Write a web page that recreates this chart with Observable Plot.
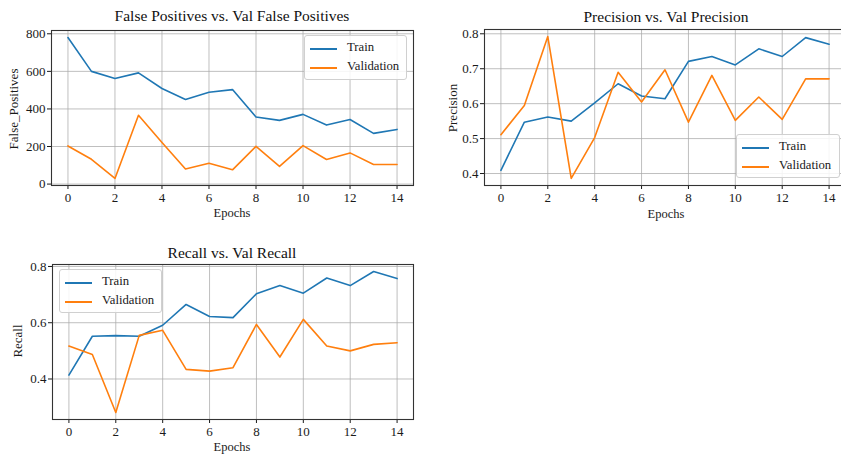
<!DOCTYPE html>
<html>
<head>
<meta charset="utf-8">
<script src="https://cdn.jsdelivr.net/npm/d3@7"></script>
<script src="https://cdn.jsdelivr.net/npm/@observablehq/plot@0.6"></script>
<style>
  html, body { margin: 0; padding: 0; background: #fff; overflow: hidden; }
  #root { position: relative; width: 841px; height: 454px; overflow: hidden; background: #fff;
          font-family: "Liberation Serif", "DejaVu Serif", serif; color: #1a1a1a; }
  .abs { position: absolute; white-space: nowrap; }
  .title { font-size: 15.5px; transform: translate(-50%, -50%); color: #111; }
  .xlab { font-size: 12.5px; transform: translate(-50%, -50%); }
  .ylab { font-size: 13px; transform: translate(-50%, -50%) rotate(-90deg); }
  .legend { background: rgba(255,255,255,0.85); border: 1px solid #d0d0d0; border-radius: 3px; box-sizing: border-box; }
  .legend .row { position: absolute; font-size: 12.7px; }
  .legend .swatch { position: absolute; height: 0; border-top: 2px solid; }
  svg { position: absolute; }
</style>
</head>
<body>
<div id="root"></div>
<script>
// ---------------- data ----------------
const epochs = [0,1,2,3,4,5,6,7,8,9,10,11,12,13,14];
const seriesNames = ["Train", "Validation"];
const seriesColors = ["#1f77b4", "#ff7f0e"];

const fpTrain = [780, 600, 562, 592, 509, 450, 489, 503, 357, 339, 371, 314, 344, 270, 291];
const fpVal   = [203, 132, 30, 366, 221, 80, 111, 76, 201, 94, 205, 131, 166, 104, 104];

const precTrain = [0.409, 0.547, 0.562, 0.550, 0.602, 0.657, 0.622, 0.614, 0.721, 0.735, 0.711, 0.757, 0.735, 0.789, 0.770];
const precVal   = [0.511, 0.595, 0.792, 0.386, 0.503, 0.690, 0.605, 0.697, 0.547, 0.681, 0.552, 0.619, 0.555, 0.671, 0.671];

const recTrain = [0.414, 0.552, 0.554, 0.552, 0.591, 0.665, 0.622, 0.618, 0.703, 0.732, 0.705, 0.759, 0.732, 0.782, 0.757];
const recVal   = [0.517, 0.487, 0.281, 0.555, 0.573, 0.434, 0.428, 0.440, 0.594, 0.478, 0.612, 0.517, 0.500, 0.523, 0.529];

const xTicks = [0,2,4,6,8,10,12,14];
const fpTicks = [0,200,400,600,800];
const precTicks = [0.4,0.5,0.6,0.7,0.8];
const recTicks = [0.4,0.6,0.8];

const titles = ["False Positives vs. Val False Positives", "Precision vs. Val Precision", "Recall vs. Val Recall"];
const yLabels = ["False_Positives", "Precision", "Recall"];
const xLabel = "Epochs";

// ---------------- helpers ----------------
const root = document.getElementById("root");
const SERIF = "'Liberation Serif', 'DejaVu Serif', serif";

function rows(train, val) {
  const out = [];
  epochs.forEach((e, i) => out.push({epoch: e, value: train[i], series: seriesNames[0]}));
  epochs.forEach((e, i) => out.push({epoch: e, value: val[i], series: seriesNames[1]}));
  return out;
}

function padded(values) {
  const [lo, hi] = d3.extent(values);
  const m = (hi - lo) * 0.05;
  return [lo - m, hi + m];
}

function addText(cls, text, x, y) {
  const d = document.createElement("div");
  d.className = "abs " + cls;
  d.textContent = text;
  d.style.left = x + "px";
  d.style.top = y + "px";
  root.appendChild(d);
}

function addLegend(box) {
  const lg = document.createElement("div");
  lg.className = "abs legend";
  lg.style.left = box.x + "px";
  lg.style.top = box.y + "px";
  lg.style.width = box.w + "px";
  lg.style.height = box.h + "px";
  seriesNames.forEach((name, i) => {
    const cy = 12 + i * 19;
    const sw = document.createElement("div");
    sw.className = "swatch";
    sw.style.left = "5px";
    sw.style.width = "27px";
    sw.style.top = cy + "px";
    sw.style.borderColor = seriesColors[i];
    lg.appendChild(sw);
    const t = document.createElement("div");
    t.className = "row";
    t.textContent = name;
    t.style.left = "42px";
    t.style.top = (cy - 8) + "px";
    lg.appendChild(t);
  });
  root.appendChild(lg);
}

function panel(cfg) {
  const data = rows(cfg.train, cfg.val);
  const chart = Plot.plot({
    width: cfg.w, height: cfg.h,
    marginLeft: cfg.ml, marginRight: cfg.mr, marginTop: cfg.mt, marginBottom: cfg.mb,
    style: {background: "transparent", overflow: "visible"},
    x: {domain: [-0.7, 14.7]},
    y: {domain: padded(cfg.train.concat(cfg.val))},
    color: {domain: seriesNames, range: seriesColors},
    marks: [
      Plot.gridX(xTicks, {stroke: "#aaaaaa", strokeOpacity: 0.75, strokeWidth: 1}),
      Plot.gridY(cfg.yTicks, {stroke: "#aaaaaa", strokeOpacity: 0.75, strokeWidth: 1}),
      Plot.axisX({ticks: xTicks, tickSize: 4, tickPadding: 3, label: null, fontSize: 13, fontFamily: SERIF}),
      Plot.axisY({ticks: cfg.yTicks, tickSize: 4, tickPadding: 2, label: null, tickFormat: cfg.fmt, fontSize: 13, fontFamily: SERIF}),
      Plot.line(data, {x: "epoch", y: "value", stroke: "series", z: "series", strokeWidth: 1.6}),
      Plot.frame({stroke: "#333", strokeWidth: 1.1})
    ]
  });
  chart.querySelectorAll("text").forEach(t => {
    t.style.fontFamily = SERIF;
    t.style.fontSize = "13px";
    t.style.fill = "#1a1a1a";
  });
  chart.style.left = cfg.left + "px";
  chart.style.top = cfg.top + "px";
  root.appendChild(chart);
}

// ---------------- panels ----------------
panel({train: fpTrain, val: fpVal, yTicks: fpTicks, fmt: d3.format("d"),
       left: 0, top: 0, w: 420, h: 230, ml: 51, mr: 7, mt: 30, mb: 45});
panel({train: precTrain, val: precVal, yTicks: precTicks, fmt: d3.format(".1f"),
       left: 420, top: 0, w: 430, h: 230, ml: 64, mr: 5, mt: 29, mb: 45});
panel({train: recTrain, val: recVal, yTicks: recTicks, fmt: d3.format(".1f"),
       left: 0, top: 230, w: 420, h: 224, ml: 52, mr: 7, mt: 34, mb: 35});

addText("title", titles[0], 232, 16);
addText("title", titles[1], 666, 17);
addText("title", titles[2], 232, 253);

addText("xlab", xLabel, 232, 213);
addText("xlab", xLabel, 666, 214);
addText("xlab", xLabel, 232, 447);

addText("ylab", yLabels[0], 14, 109);
addText("ylab", yLabels[1], 453, 108);
addText("ylab", yLabels[2], 18, 341);

addLegend({x: 304, y: 35, w: 103, h: 45});
addLegend({x: 736, y: 134, w: 104, h: 44});
addLegend({x: 59, y: 269, w: 103, h: 44});
</script>
</body>
</html>
